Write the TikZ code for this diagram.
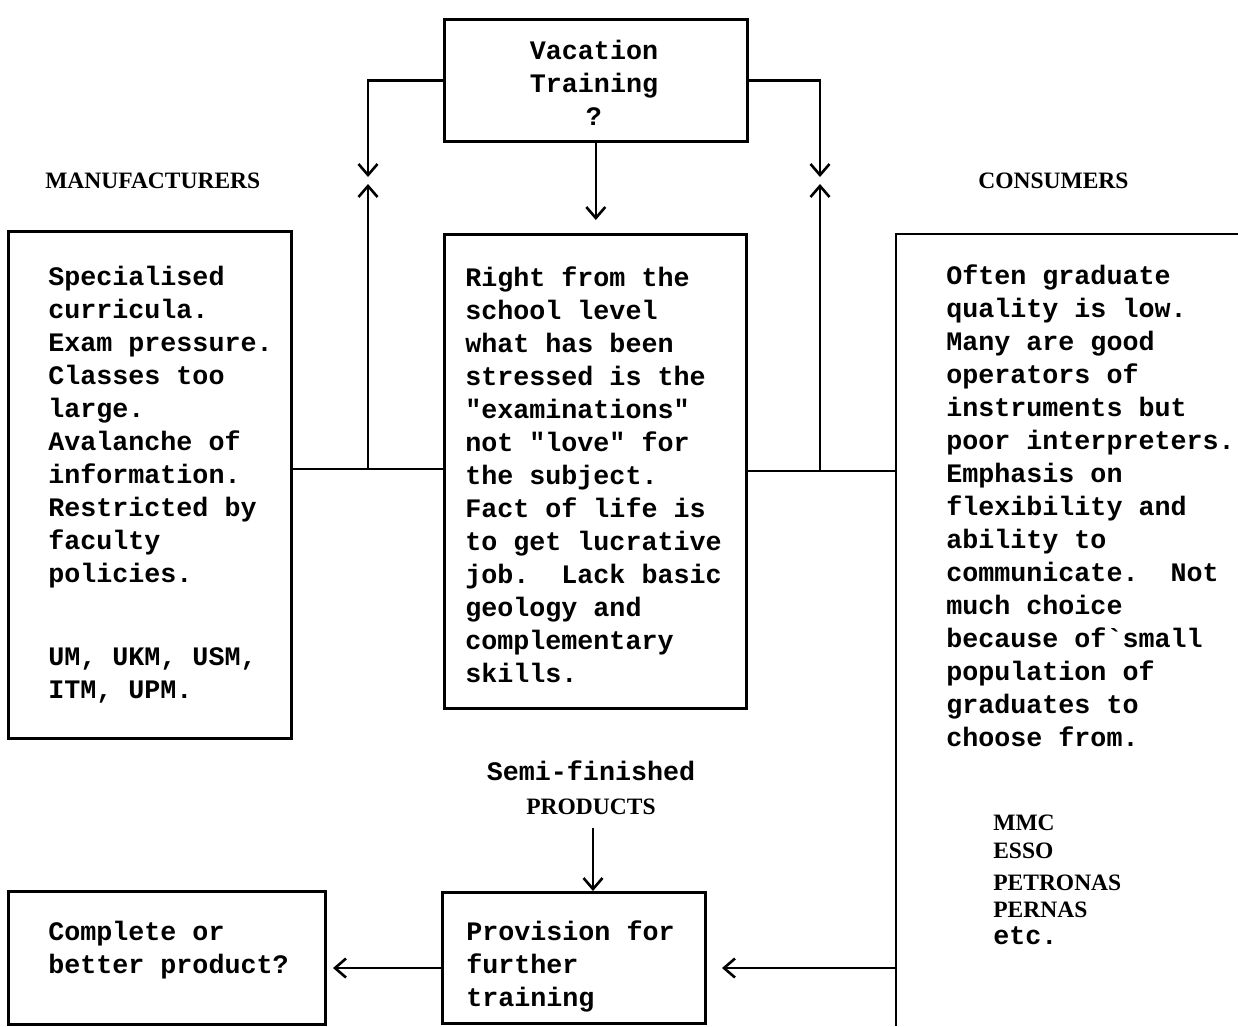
\documentclass[tikz,border=0pt]{standalone}
\usepackage{fontspec}
\setmonofont{Liberation Mono}
\newfontfamily\capsfont{Liberation Serif}
\usetikzlibrary{arrows.meta}
\begin{document}
\frenchspacing
\begin{tikzpicture}[x=1pt,y=-1pt, line width=2.6pt,
  >={Straight Barb[length=11pt,width=19pt]},
  box/.style={draw, inner sep=0pt, anchor=north west},
  tw/.style={font=\fontsize{26.7pt}{33pt}\selectfont\ttfamily\bfseries, inner sep=0pt, align=left, anchor=base west},
  capt/.style={font=\fontsize{23.5pt}{30pt}\selectfont\capsfont\bfseries, inner sep=0pt, anchor=base west}]
\fill[white] (0,0) rectangle (1238,1026);
\useasboundingbox (0,0) rectangle (1238,1026);

% boxes
\node[box, minimum width=303pt, minimum height=122pt] (vac) at (443,18) {};
\node[box, minimum width=283pt, minimum height=507pt] (man) at (7,230) {};
\node[box, minimum width=302pt, minimum height=474pt] (mid) at (443,233) {};
\node[box, minimum width=317pt, minimum height=133pt] (comp) at (7,890) {};
\node[box, minimum width=263pt, minimum height=131pt] (prov) at (441,891) {};
\coordinate (conTL) at (896,234);
\coordinate (conTR) at (1238,234);
\coordinate (conBL) at (896,1026);
\draw (conTR) -- (conTL) -- (conBL);

% texts (base anchor = baseline of the last line)
\node[tw, anchor=base, align=center] (vactext) at (594,125) {Vacation\\Training\\?};
\node[capt] (manlabel) at (44,188) {MANUFACTURERS};
\node[capt] (conlabel) at (977,188) {CONSUMERS};
\node[tw] (mantext) at (47,582) {Specialised\\curricula.\\Exam pressure.\\Classes too\\large.\\Avalanche of\\information.\\Restricted by\\faculty\\policies.};
\node[tw] (unis) at (47,698) {UM, UKM, USM,\\ITM, UPM.};
\node[tw] (midtext) at (464,682) {Right from the\\school level\\what has been\\stressed is the\\"examinations"\\not "love" for\\the subject.\\Fact of life is\\to get lucrative\\job.~~Lack basic\\geology and\\complementary\\skills.};
\node[tw] (context) at (945,746) {Often graduate\\quality is low.\\Many are good\\operators of\\instruments but\\poor interpreters.\\Emphasis on\\flexibility and\\ability to\\communicate.~~Not\\much choice\\because of\textasciigrave small\\population of\\graduates to\\choose from.};
\node[capt] (mmc) at (992,830) {MMC};
\node[capt] (esso) at (992,858) {ESSO};
\node[capt] (petronas) at (992,890) {PETRONAS};
\node[capt] (pernas) at (992,917) {PERNAS};
\node[tw] (etc) at (992,944) {etc.};
\node[tw, anchor=base] (semi) at (591,780) {Semi-finished};
\node[capt, anchor=base] (products) at (591,814) {PRODUCTS};
\node[tw] (comptext) at (47,973) {Complete or\\better product?};
\node[tw] (provtext) at (465,1006) {Provision for\\further\\training};

% connectors
\coordinate (dnL) at (368,177);
\coordinate (dnR) at (820,177);
\coordinate (dnC) at (594,220);
\draw[->] (vac.west) -| (dnL);
\draw[->] (vac.east) -| (dnR);
\draw[->] (vac.south) -- (vac.south |- dnC);

\coordinate (jL) at (368,469);
\coordinate (upL) at (368,184);
\draw (man.east |- jL) -- (mid.west |- jL);
\draw[->] (jL) -- (upL);
\coordinate (jR) at (820,471);
\coordinate (upR) at (820,184);
\draw (mid.east |- jR) -- (conTL |- jR);
\draw[->] (jR) -- (upR);

\coordinate (sfTop) at (593,828);
\draw[->] (sfTop) -- (prov.north -| sfTop);
\coordinate (tipP) at (722,968);
\draw[->] (conTL |- tipP) -- (tipP);
\coordinate (tipC) at (333,968);
\draw[->] (prov.west |- tipC) -- (tipC);
\end{tikzpicture}
\end{document}
